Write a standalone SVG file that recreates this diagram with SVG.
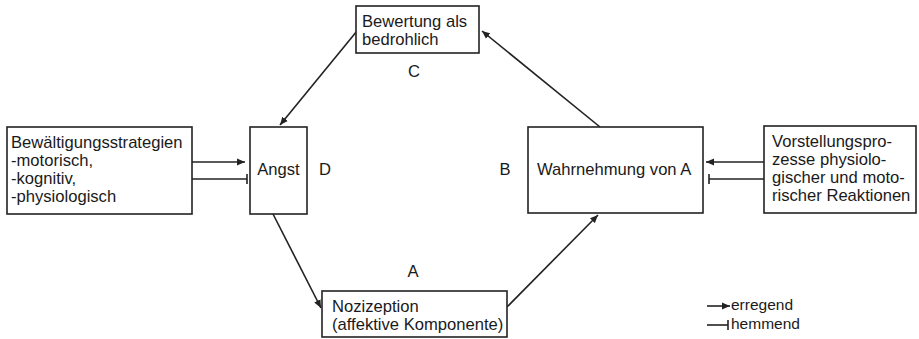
<svg xmlns="http://www.w3.org/2000/svg" width="919" height="339" viewBox="0 0 919 339">
<style>
.box{fill:#fff;stroke:#222;stroke-width:1.6}
.t{font-family:"Liberation Sans",Arial,sans-serif;font-size:16.6px;fill:#1a1a1a}
.lg{font-family:"Liberation Sans",Arial,sans-serif;font-size:15.5px;fill:#1a1a1a}
.c{text-anchor:middle}
.ln{stroke:#222;stroke-width:1.6;fill:none}
.ex{marker-end:url(#arr)}
.inh{marker-end:url(#bar)}
</style>
<defs>
<marker id="arr" markerUnits="userSpaceOnUse" markerWidth="10" markerHeight="8" refX="8" refY="4" orient="auto">
<path d="M0,0.5 L8,4 L0,7.5 Z" fill="#222"/>
</marker>
<marker id="bar" markerUnits="userSpaceOnUse" markerWidth="4" markerHeight="12" refX="2" refY="6" orient="auto">
<line x1="2" y1="1" x2="2" y2="11" stroke="#222" stroke-width="1.6"/>
</marker>
</defs>
<rect width="919" height="339" fill="#fff"/>
<g id="connectors">
<line class="ln ex" x1="357" y1="31" x2="280" y2="125"/>
<line class="ln ex" x1="600" y1="127" x2="482" y2="31"/>
<line class="ln ex" x1="273" y1="214" x2="321" y2="308"/>
<line class="ln ex" x1="507" y1="307" x2="598" y2="215"/>
<line class="ln ex" x1="192" y1="162" x2="245" y2="162"/>
<line class="ln inh" x1="192" y1="179" x2="247" y2="179"/>
<line class="ln ex" x1="764" y1="162" x2="706" y2="162"/>
<line class="ln inh" x1="764" y1="179" x2="709" y2="179"/>
</g>
<g id="bewertung">
<rect class="box" x="356" y="6" width="123" height="47"/>
<text class="t" x="362" y="27">Bewertung als</text>
<text class="t" x="362" y="45">bedrohlich</text>
</g>
<g id="angst">
<rect class="box" x="250" y="127" width="57" height="87"/>
<text class="t c" x="278.5" y="175">Angst</text>
</g>
<g id="bewaeltigung">
<rect class="box" x="7" y="127" width="185" height="87"/>
<text class="t" x="11" y="148">Bewältigungsstrategien</text>
<text class="t" x="11" y="166">-motorisch,</text>
<text class="t" x="11" y="184">-kognitiv,</text>
<text class="t" x="11" y="202">-physiologisch</text>
</g>
<g id="wahrnehmung">
<rect class="box" x="528" y="127" width="175" height="86"/>
<text class="t" x="537" y="175">Wahrnehmung von A</text>
</g>
<g id="vorstellung">
<rect class="box" x="764" y="126" width="152" height="87"/>
<text class="t" x="772" y="147">Vorstellungspro-</text>
<text class="t" x="772" y="165">zesse physiolo-</text>
<text class="t" x="772" y="183">gischer und moto-</text>
<text class="t" x="772" y="201">rischer Reaktionen</text>
</g>
<g id="nozizeption">
<rect class="box" x="322" y="291" width="185" height="46"/>
<text class="t" x="332" y="312">Nozizeption</text>
<text class="t" x="332" y="330">(affektive Komponente)</text>
</g>
<g id="labels">
<text class="t c" x="414" y="77">C</text>
<text class="t c" x="325" y="175">D</text>
<text class="t c" x="505" y="175">B</text>
<text class="t c" x="413" y="277">A</text>
</g>
<g id="legend">
<line class="ln ex" x1="707" y1="306" x2="730" y2="306"/>
<text class="lg" x="731" y="310">erregend</text>
<line class="ln inh" x1="707" y1="325" x2="728" y2="325"/>
<text class="lg" x="731" y="329">hemmend</text>
</g>
</svg>
